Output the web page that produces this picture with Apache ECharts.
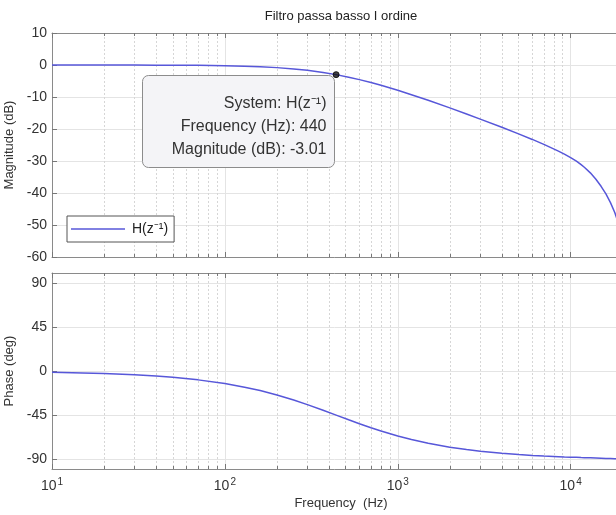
<!DOCTYPE html>
<html>
<head>
<meta charset="utf-8">
<script src="https://cdn.jsdelivr.net/npm/echarts@6/dist/echarts.min.js"></script>
<style>html,body{margin:0;padding:0;background:#fff}#c{width:616px;height:515px}</style>
</head>
<body>
<div id="c"></div>
<script>
// Frequency samples (Hz)
const freq = [10, 15, 20, 30, 40, 50, 70, 100, 130, 160, 200, 250, 300, 370, 440, 520, 600, 700, 800, 1000, 1200, 1500, 2000, 2500, 3000, 4000, 5000, 6000, 7000, 8500, 9200, 10000, 10800, 11500, 12000, 13000, 14000, 15000, 16000, 17000, 18000, 19000, 20000, 20500, 21000];
// Magnitude (dB)
const magDB = [0.00, -0.01, -0.01, -0.02, -0.04, -0.06, -0.11, -0.22, -0.37, -0.54, -0.82, -1.22, -1.66, -2.32, -3.01, -3.80, -4.57, -5.48, -6.35, -7.91, -9.28, -11.04, -13.41, -15.31, -16.90, -19.46, -21.51, -23.26, -24.82, -26.91, -27.85, -28.95, -30.05, -31.15, -31.95, -33.7, -35.7, -37.9, -40.3, -43.0, -46.1, -49.8, -54.3, -57.2, -60.8];
// Phase (deg)
const phaseDeg = [-1.3, -1.95, -2.6, -3.9, -5.2, -6.5, -9.05, -12.8, -16.5, -20.0, -24.4, -29.6, -34.3, -40.1, -45.0, -49.8, -53.8, -57.9, -61.2, -66.3, -69.9, -73.7, -77.7, -80.1, -81.8, -83.9, -85.2, -86.1, -86.7, -87.4, -87.7, -87.9, -88.1, -88.3, -88.4, -88.6, -88.8, -89.0, -89.2, -89.3, -89.5, -89.6, -89.7, -89.75, -89.8];
// Data tip
const tipFreq = 440;
const tipMag = -3.01;
// Tick labels
const phaseTicks = [-90, -45, 0, 45, 90];
const title = 'Filtro passa basso I ordine';
const seriesName = 'H(z\u207B\u00B9)';

const FONT = '"Liberation Sans", Arial, sans-serif';
const AXC = '#8a8a8a', GRIDC = '#e4e4e4', MINC = '#d6d6d6', TXT = '#333';
const lineColor = '#5757d9';

const chart = echarts.init(document.getElementById('c'), null, {renderer: 'canvas'});

function logX(gridIndex, pos, showLabels) {
  return {
    type: 'log', logBase: 10, gridIndex: gridIndex, position: pos,
    min: 10, max: 22050,
    axisLine: {show: true, onZero: false, lineStyle: {color: AXC, width: 1}},
    axisTick: {show: true, inside: true, length: 5, lineStyle: {color: '#777'}},
    minorTick: {show: true, splitNumber: 9, length: 3, lineStyle: {color: '#777'}},
    splitLine: {show: pos === 'bottom', lineStyle: {color: GRIDC, width: 1}},
    minorSplitLine: {show: pos === 'bottom', lineStyle: {color: MINC, type: [2, 2], width: 1}},
    axisLabel: {
      show: showLabels, margin: 8, color: TXT, fontFamily: FONT, fontSize: 14,
      formatter: function (v) {
        const e = Math.round(Math.log10(v));
        if (Math.abs(Math.pow(10, e) - v) > 1e-6 * v) return '';
        return '{b|10}{s|' + e + '}';
      },
      rich: {
        b: {fontSize: 14, fontFamily: FONT, color: TXT},
        s: {fontSize: 10, fontFamily: FONT, color: TXT, verticalAlign: 'top', padding: [0, 0, 8, 1]}
      }
    },
    name: pos === 'bottom' && showLabels ? 'Frequency  (Hz)' : '',
    nameLocation: 'middle', nameGap: 28,
    nameTextStyle: {color: TXT, fontFamily: FONT, fontSize: 13}
  };
}

const option = {
  animation: false,
  backgroundColor: '#fff',
  title: {
    text: title, left: 336, top: 5, textAlign: 'center',
    textStyle: {fontFamily: FONT, fontSize: 13, fontWeight: 'normal', color: '#222'}
  },
  legend: {
    data: [seriesName], left: 67, top: 216, orient: 'vertical',
    icon: 'rect', itemWidth: 54, itemHeight: 1.5, itemGap: 0,
    padding: [6, 6, 6, 4],
    borderColor: '#555', borderWidth: 1, backgroundColor: '#fff',
    textStyle: {fontFamily: FONT, fontSize: 14, color: '#222', padding: [0, 0, 0, 2]}
  },
  grid: [
    {left: 52, right: -14, top: 33, height: 224, outerBoundsMode: 'none', containLabel: false},
    {left: 52, right: -14, top: 273, height: 196, outerBoundsMode: 'none', containLabel: false}
  ],
  xAxis: [
    logX(0, 'bottom', false),
    logX(0, 'top', false),
    logX(1, 'bottom', true),
    logX(1, 'top', false)
  ],
  yAxis: [
    {
      type: 'value', gridIndex: 0, min: -60, max: 10, interval: 10,
      axisLine: {show: true, lineStyle: {color: AXC}},
      axisTick: {show: true, inside: true, length: 5, lineStyle: {color: '#777'}},
      splitLine: {show: true, lineStyle: {color: GRIDC}},
      axisLabel: {color: TXT, fontFamily: FONT, fontSize: 14, margin: 5},
      name: 'Magnitude (dB)', nameLocation: 'middle', nameGap: 35,
      nameTextStyle: {color: TXT, fontFamily: FONT, fontSize: 13}
    },
    {
      type: 'value', gridIndex: 1, min: -100, max: 100,
      axisLine: {show: true, lineStyle: {color: AXC}},
      axisTick: {show: true, inside: true, length: 5, customValues: phaseTicks, lineStyle: {color: '#777'}},
      splitLine: {show: true, lineStyle: {color: GRIDC}},
      axisLabel: {color: TXT, fontFamily: FONT, fontSize: 14, margin: 5, customValues: phaseTicks},
      name: 'Phase (deg)', nameLocation: 'middle', nameGap: 35,
      nameTextStyle: {color: TXT, fontFamily: FONT, fontSize: 13}
    }
  ],
  series: [
    {
      name: seriesName, type: 'line', xAxisIndex: 0, yAxisIndex: 0,
      data: freq.map((f, i) => [f, magDB[i]]),
      showSymbol: false, symbol: 'none', smooth: false, clip: true,
      lineStyle: {color: lineColor, width: 1.5}, itemStyle: {color: lineColor}
    },
    {
      name: 'tip', type: 'scatter', xAxisIndex: 0, yAxisIndex: 0,
      data: [[tipFreq, tipMag]], symbolSize: 6, z: 5,
      itemStyle: {color: '#111', borderColor: '#000', borderWidth: 1}
    },
    {
      name: 'phase', type: 'line', xAxisIndex: 2, yAxisIndex: 1,
      data: freq.map((f, i) => [f, phaseDeg[i]]),
      showSymbol: false, symbol: 'none', smooth: false, clip: true,
      lineStyle: {color: lineColor, width: 1.5}
    }
  ],
  graphic: [
    {
      type: 'group', left: 142, top: 75, z: 100, zlevel: 1,
      children: [
        {type: 'rect', z: 100, zlevel: 1, shape: {x: 0, y: 0, width: 192, height: 92, r: 6},
         style: {fill: '#f4f4f7', stroke: '#8c8c8c', lineWidth: 1}},
        {type: 'text', z: 101, zlevel: 1, x: 184, y: 28, style: {text: 'System: H(z\u207B\u00B9)', align: 'right', verticalAlign: 'middle', fill: '#333', font: '16px ' + FONT}},
        {type: 'text', z: 101, zlevel: 1, x: 184, y: 51, style: {text: 'Frequency (Hz): ' + tipFreq, align: 'right', verticalAlign: 'middle', fill: '#333', font: '16px ' + FONT}},
        {type: 'text', z: 101, zlevel: 1, x: 184, y: 74, style: {text: 'Magnitude (dB): ' + tipMag.toFixed(2), align: 'right', verticalAlign: 'middle', fill: '#333', font: '16px ' + FONT}}
      ]
    }
  ]
};
chart.setOption(option);
</script>
</body>
</html>
